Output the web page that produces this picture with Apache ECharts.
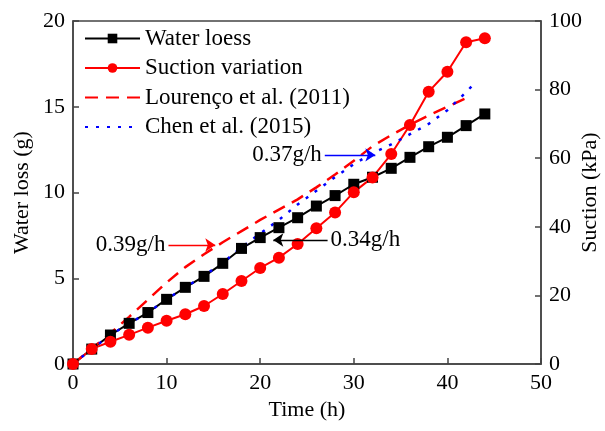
<!DOCTYPE html>
<html>
<head>
<meta charset="utf-8">
<script src="https://cdn.jsdelivr.net/npm/echarts@6/dist/echarts.min.js"></script>
<style>
  html, body { margin: 0; padding: 0; background: #fff; }
  #container { width: 605px; height: 431px; }
</style>
</head>
<body>
<div id="container"></div>
<script>
// measured time steps (h)
var hours = [0, 2, 4, 6, 8, 10, 12, 14, 16, 18, 20, 22, 24, 26, 28, 30, 32, 34, 36, 38, 40, 42, 44];
var waterLoss = [0, 0.87, 1.69, 2.37, 3.0, 3.77, 4.47, 5.11, 5.87, 6.74, 7.37, 7.95, 8.53, 9.21, 9.82, 10.48, 10.89, 11.41, 12.05, 12.67, 13.22, 13.9, 14.58];
var suction = [0, 4.4, 6.5, 8.5, 10.6, 12.6, 14.5, 16.9, 20.4, 24.2, 28.0, 31.0, 35.0, 39.6, 44.2, 50.1, 54.4, 61.2, 69.7, 79.4, 85.2, 93.8, 95.0];

// reference curves
var lourencoT = [0, 2, 4, 6, 8, 10, 12, 14, 16, 18, 20, 22, 24, 26, 28, 30, 32, 34, 36, 38, 40, 42];
var lourencoV = [0, 0.9, 1.8, 2.75, 3.75, 4.75, 5.65, 6.4, 7.1, 7.75, 8.4, 9.0, 9.6, 10.3, 11.05, 11.85, 12.7, 13.35, 13.95, 14.5, 15.0, 15.5];
var chenT = [0, 2, 4, 6, 8, 10, 12, 14, 16, 18, 20, 22, 24, 26, 28, 30, 32, 34, 36, 38, 40, 42, 42.6];
var chenV = [0, 0.87, 1.69, 2.37, 3.0, 3.77, 4.47, 5.15, 5.9, 6.8, 7.6, 8.4, 9.3, 10.1, 10.9, 11.65, 12.3, 12.8, 13.4, 14.0, 14.8, 15.85, 16.2];

var serif = 'Liberation Serif';

function pairs(xs, ys) {
  return xs.map(function(x, i) { return [x, ys[i]]; });
}

// arrow annotation: [x0, y0] -> [x1, y1] in data units
function arrow(text, from, to, color) {
  return {
    silent: true,
    animation: false,
    symbol: ['none', 'arrow'],
    symbolSize: 10,
    lineStyle: { color: color, width: 1.3, type: 'solid' },
    label: {
      show: true,
      position: 'start',
      formatter: text,
      color: '#000',
      fontFamily: serif,
      fontSize: 23,
      distance: 3
    },
    data: [[{ coord: from }, { coord: to }]]
  };
}

var dom = document.getElementById('container');
var myChart = echarts.init(dom);

var axisLine = { show: true, lineStyle: { color: '#444', width: 1.5 } };
var axisTick = { show: true, inside: true, length: 6, lineStyle: { color: '#444', width: 1.5 } };
var axisLabel = { color: '#000', fontFamily: serif, fontSize: 22, margin: 8 };
var nameStyle = { color: '#000', fontFamily: serif, fontSize: 22 };

myChart.setOption({
  animation: false,
  grid: {
    left: 73, right: 64, top: 21, bottom: 67,
    show: true, borderColor: '#444', borderWidth: 1.5,
    outerBoundsMode: 'none'
  },
  legend: {
    orient: 'vertical',
    left: 79,
    top: 22,
    itemWidth: 55,
    itemHeight: 12,
    itemGap: 6.5,
    textStyle: { color: '#000', fontFamily: serif, fontSize: 23 },
    data: [
      'Water loess',
      'Suction variation',
      // dashed/dotted fits have no marker
      { name: 'Lourenço et al. (2011)', itemStyle: { opacity: 0 } },
      { name: 'Chen et al. (2015)', itemStyle: { opacity: 0 } }
    ]
  },
  xAxis: {
    type: 'value',
    min: 0, max: 50, interval: 10,
    name: 'Time (h)',
    nameLocation: 'middle',
    nameGap: 35,
    nameMoveOverlap: false,
    nameTextStyle: nameStyle,
    axisLine: axisLine,
    axisTick: axisTick,
    axisLabel: axisLabel,
    splitLine: { show: false }
  },
  yAxis: [{
    type: 'value',
    min: 0, max: 20, interval: 5,
    name: 'Water loss (g)',
    nameLocation: 'middle',
    nameRotate: 90,
    nameGap: 40,
    nameMoveOverlap: false,
    nameTextStyle: nameStyle,
    axisLine: axisLine,
    axisTick: axisTick,
    axisLabel: axisLabel,
    splitLine: { show: false }
  }, {
    type: 'value',
    position: 'right',
    min: 0, max: 100, interval: 20,
    name: 'Suction (kPa)',
    nameLocation: 'middle',
    nameRotate: 90,
    nameGap: 38,
    nameMoveOverlap: false,
    nameTextStyle: nameStyle,
    axisLine: axisLine,
    axisTick: axisTick,
    axisLabel: axisLabel,
    splitLine: { show: false }
  }],
  series: [{
    name: 'Water loess',
    type: 'line',
    yAxisIndex: 0,
    symbol: 'rect',
    symbolSize: 11,
    itemStyle: { color: '#000' },
    lineStyle: { color: '#000', width: 2 },
    data: pairs(hours, waterLoss),
    markLine: arrow('0.34g/h', [27.2, 7.23], [21.4, 7.23], '#000')
  }, {
    name: 'Suction variation',
    type: 'line',
    yAxisIndex: 1,
    symbol: 'circle',
    symbolSize: 12,
    itemStyle: { color: '#ff0000' },
    lineStyle: { color: '#ff0000', width: 2 },
    data: pairs(hours, suction)
  }, {
    name: 'Lourenço et al. (2011)',
    type: 'line',
    yAxisIndex: 0,
    symbol: 'none',
    itemStyle: { color: '#ff0000' },
    lineStyle: { color: '#ff0000', width: 2.5, type: [13, 8] },
    data: pairs(lourencoT, lourencoV),
    markLine: arrow('0.39g/h', [10.2, 6.94], [15.2, 6.94], '#ff0000')
  }, {
    name: 'Chen et al. (2015)',
    type: 'line',
    yAxisIndex: 0,
    symbol: 'none',
    itemStyle: { color: '#0000ff' },
    lineStyle: { color: '#0000ff', width: 2.5, type: [3, 8] },
    data: pairs(chenT, chenV),
    markLine: arrow('0.37g/h', [26.9, 12.19], [32.3, 12.19], '#0000ff')
  }]
});
</script>
</body>
</html>
